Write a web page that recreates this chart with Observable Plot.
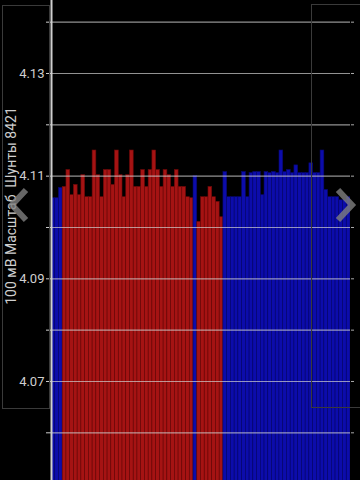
<!DOCTYPE html>
<html>
<head>
<meta charset="utf-8">
<script src="https://cdn.jsdelivr.net/npm/d3@7"></script>
<script src="https://cdn.jsdelivr.net/npm/@observablehq/plot@0.6"></script>
<style>
  html, body { margin: 0; padding: 0; background: #000; }
  #wrap { position: relative; width: 360px; height: 480px; overflow: hidden; background: #000; font-family: Roboto, "Noto Sans", sans-serif; }
  #chart svg { display: block; }
  .ylabel { position: absolute; left: 11px; top: 206px; transform: translate(-50%, -50%) rotate(-90deg); white-space: pre; color: #cfcfcf; font-size: 14px; }
  .box { position: absolute; border: 1px solid #3a3a3a; pointer-events: none; }
  .chev { position: absolute; pointer-events: none; }
</style>
</head>
<body>
<div id="wrap">
  <div id="chart"></div>
  <div class="box" style="left:2px; top:5px; width:46px; height:402px;"></div>
  <div class="box" style="left:311px; top:4px; width:60px; height:402px;"></div>
  <div class="ylabel" id="ylab"></div>
  <svg class="chev" style="left:4px; top:185px;" width="28" height="42"><polyline points="22,5 8,20 22,35" fill="none" stroke="#808080" stroke-opacity="0.8" stroke-width="6"/></svg>
  <svg class="chev" style="left:330px; top:185px;" width="28" height="42"><polyline points="8,5 22,20 8,35" fill="none" stroke="#808080" stroke-opacity="0.8" stroke-width="6"/></svg>
</div>
<script>
// ---- data ----
const axisTitle = "100 мВ Масштаб  Шунты 8421";
const seriesNames = ["B", "R"];
const seriesColors = ["#0c0cab", "#a51313"];
const seriesEdges = ["#07076e", "#6a0909"];
const barSeries = [
  "B","B","B",
  "R","R","R","R","R","R","R","R","R","R","R","R","R","R","R","R","R","R","R","R","R","R","R","R","R","R","R","R","R","R","R","R","R","R","R",
  "B",
  "R","R","R","R","R","R","R",
  "B","B","B","B","B","B","B","B","B","B","B","B","B","B","B","B","B","B","B","B","B","B","B","B","B","B","B","B","B","B","B","B","B","B"
];
const barValues = [
  4.1057, 4.1057, 4.1077,
  4.1079, 4.1112, 4.1063, 4.1083, 4.1063, 4.1102, 4.1059, 4.1059, 4.1150, 4.1102,
  4.1059, 4.1112, 4.1112, 4.1083, 4.1150, 4.1102, 4.1059, 4.1102, 4.1150, 4.1079,
  4.1079, 4.1112, 4.1079, 4.1112, 4.1150, 4.1112, 4.1079, 4.1112, 4.1102, 4.1079,
  4.1112, 4.1079, 4.1079, 4.1059, 4.1057,
  4.1100,
  4.1011, 4.1059, 4.1059, 4.1079, 4.1059, 4.1050, 4.1020,
  4.1108, 4.1059, 4.1059, 4.1059, 4.1059, 4.1108, 4.1059, 4.1106, 4.1108, 4.1108,
  4.1063, 4.1108, 4.1106, 4.1108, 4.1106, 4.1150, 4.1108, 4.1112, 4.1106, 4.1121,
  4.1106, 4.1106, 4.1106, 4.1125, 4.1106, 4.1106, 4.1150, 4.1073, 4.1059, 4.1059,
  4.1059, 4.1053, 4.1053, 4.1059
];
const yTicks = [4.06, 4.07, 4.08, 4.09, 4.10, 4.11, 4.12, 4.13, 4.14];
const yTickLabels = ["4.13", "4.11", "4.09", "4.07"];
const yDomain = [4.05071, 4.14422];

// ---- build ----
document.getElementById("ylab").textContent = axisTitle;
const bars = barValues.map((v, i) => ({i, i1: i + 1, v, s: barSeries[i]}));
const edgeOf = s => seriesEdges[seriesNames.indexOf(s)];

const chart = Plot.plot({
  width: 360,
  height: 480,
  marginLeft: 51,
  marginRight: 10,
  marginTop: 0,
  marginBottom: 0,
  style: {background: "#000", color: "#cfcfcf", fontFamily: "Roboto, sans-serif", fontSize: "13px", overflow: "hidden"},
  x: {domain: [0, barValues.length], axis: null},
  y: {domain: yDomain, axis: null},
  color: {domain: seriesNames, range: seriesColors},
  marks: [
    Plot.rectY(bars, {x1: "i", x2: "i1", y1: yDomain[0] - 0.01, y2: "v", fill: "s", stroke: d => edgeOf(d.s), strokeWidth: 0.6, clip: true}),
    Plot.ruleY(yTicks, {stroke: "#d0d0d0", strokeOpacity: 0.7, strokeWidth: 1.2}),
    Plot.axisY(yTicks, {anchor: "left", tickSize: 5, tickPadding: 2, stroke: "#cfcfcf", fill: "#cfcfcf",
      tickFormat: d => { const t = d.toFixed(2); return yTickLabels.includes(t) ? t : ""; }, label: null}),
    Plot.axisY(yTicks, {anchor: "right", tickSize: 3, stroke: "#aaa", tickFormat: () => "", label: null}),
    Plot.ruleX([0], {stroke: "#cfcfcf", strokeWidth: 2})
  ]
});
document.getElementById("chart").appendChild(chart);
</script>
</body>
</html>
